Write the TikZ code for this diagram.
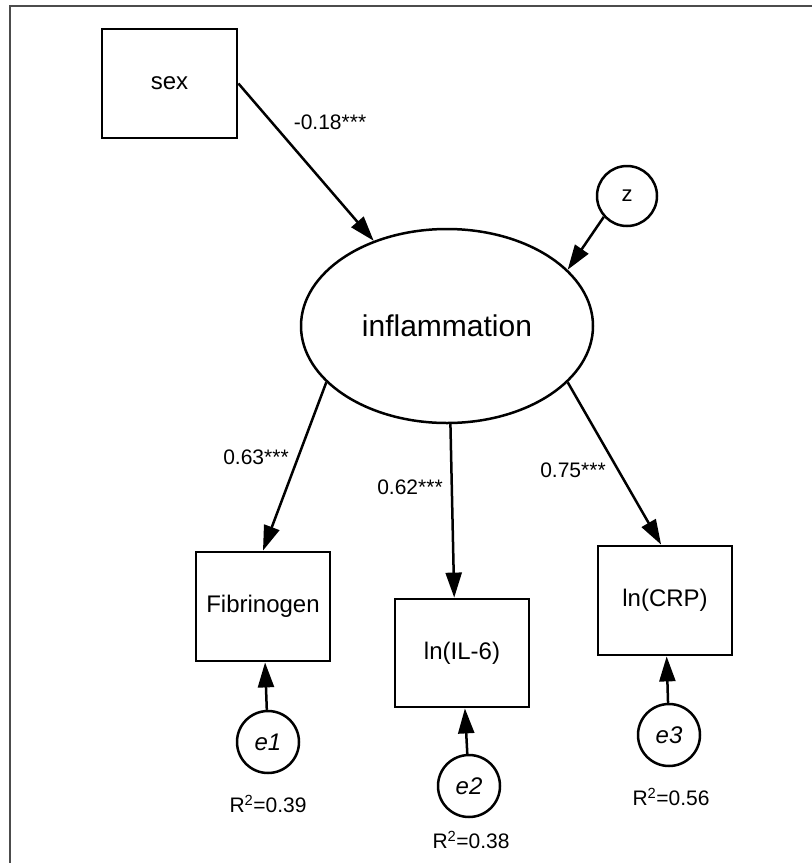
\documentclass[tikz,border=0pt]{standalone}
\usepackage{fontspec}
\setmainfont{Liberation Sans}
\usepackage{tikz}
\usetikzlibrary{arrows.meta,shapes.geometric}
\tikzset{
    semnode/.style = {align=center, inner sep=0pt, text centered, draw=black, line width=2.8pt, fill=white},
    node_obs/.style = {semnode, rectangle, minimum width=134pt, minimum height=109pt, font=\fontsize{24}{28}\selectfont},
    node_latent/.style = {semnode, ellipse, minimum width=292pt, minimum height=194pt, line width=2.5pt, font=\fontsize{30}{34}\selectfont},
    node_err/.style = {semnode, circle, minimum size=62pt, line width=2.5pt, font=\fontsize{24}{28}\selectfont\itshape},
    node_coef/.style = {inner sep=0pt, font=\fontsize{21}{24}\selectfont},
    path_arrow/.style = {-{Triangle[length=25pt, width=16pt]}, line width=2.5pt}
}
\begin{document}
\begin{tikzpicture}[x=1pt, y=-1pt]
    \useasboundingbox (0,0) rectangle (812,863);
    % frame
    \draw[line width=2.5pt, black!70] (812,6) -- (10,6) -- (10,863);
    % variables
    \node [node_obs, minimum width=135pt] (sex) at (169.5,83.5) {sex};
    \node [node_latent] (infl) at (447,326) {inflammation};
    \node [node_err, minimum size=60pt, font=\fontsize{22}{26}\selectfont] (z) at (627,196) {z};
    \node [node_obs] (fib) at (263,606.5) {Fibrinogen};
    \node [node_obs, minimum height=108pt] (il6) at (462,653) {ln(IL-6)};
    \node [node_obs] (crp) at (665,600.5) {ln(CRP)};
    \node [node_err] (e1) at (268,742) {e1};
    \node [node_err] (e2) at (469,786) {e2};
    \node [node_err] (e3) at (669,735) {e3};
    % paths
    \draw [path_arrow] (sex.east) -- (infl);
    \draw [path_arrow] (z.222) -- (infl.25);
    \draw [path_arrow] (infl.205) -- (fib.north);
    \draw [path_arrow] (infl.272) -- (il6.98);
    \draw [path_arrow] (infl.335) -- (crp.94);
    \draw [path_arrow] (e1) -- (fib);
    \draw [path_arrow] (e2) -- (il6);
    \draw [path_arrow] (e3) -- (crp);
    % coefficients
    \node [node_coef] (c_sex) at (330,122) {-0.18***};
    \node [node_coef] (c_fib) at (256,457) {0.63***};
    \node [node_coef] (c_il6) at (410,487) {0.62***};
    \node [node_coef] (c_crp) at (573,470) {0.75***};
    % explained variance
    \node [node_coef] (r_fib) at (268,804) {R\textsuperscript{2}=0.39};
    \node [node_coef] (r_il6) at (471,840) {R\textsuperscript{2}=0.38};
    \node [node_coef] (r_crp) at (671,797) {R\textsuperscript{2}=0.56};
\end{tikzpicture}
\end{document}
